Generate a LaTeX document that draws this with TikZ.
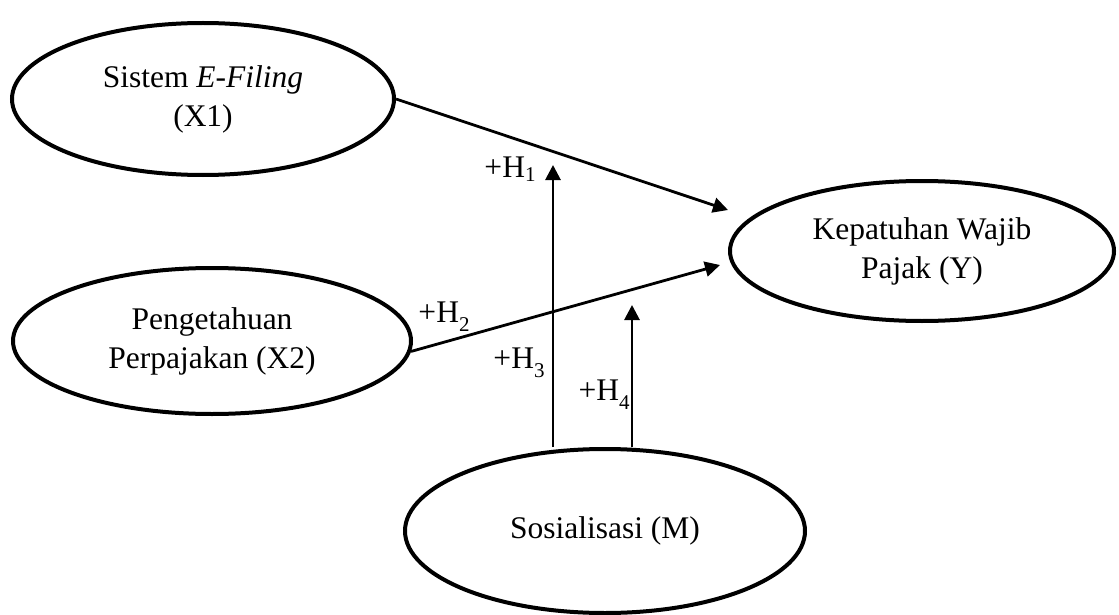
\documentclass[tikz,border=0pt]{standalone}
\usepackage{fontspec}
\setmainfont{Liberation Serif}
\usetikzlibrary{shapes.geometric,arrows.meta}
\newcommand{\hsubtxt}[2]{+H\raisebox{#2}{\fontsize{21}{21}\selectfont #1}}
\begin{document}
\begin{tikzpicture}[x=1pt,y=-1pt,
  var/.style={draw, ellipse, line width=4pt, inner sep=0pt, align=center,
    font=\fontsize{31.5}{39}\selectfont},
  conn/.style={line width=2.8pt, -{Triangle[length=15pt,width=15pt]}},
  lab/.style={font=\fontsize{31.5}{39}\selectfont, inner sep=0pt, anchor=base}]
\useasboundingbox (0,0) rectangle (1119,615);
\fill[white] (0,0) rectangle (1119,615);
\node[var, minimum width=382pt, minimum height=152pt] (X1) at (203,99)
  {Sistem \textit{E-Filing}\\(X1)};
\node[var, minimum width=398pt, minimum height=146pt] (X2) at (212,341)
  {Pengetahuan\\Perpajakan (X2)};
\node[var, minimum width=384pt, minimum height=140pt] (Y) at (922,251)
  {Kepatuhan Wajib\\Pajak (Y)};
\node[var, minimum width=400pt, minimum height=164pt] (M) at (605,531)
  {Sosialisasi (M)};
\coordinate (t1) at (728,210);
\coordinate (t2) at (720,265);
\coordinate (t3) at (553,165);
\coordinate (t4) at (632,305);
\draw[conn] (X1.east) -- (t1);
\draw[conn] (X2.-3) -- (t2);
\draw[conn] (M.north -| t3) -- (t3);
\draw[conn] (M.north -| t4) -- (t4);
\node[lab] (h1) at (510,178) {\hsubtxt{1}{-3pt}};
\node[lab] (h2) at (444,322) {\hsubtxt{2}{-9pt}};
\node[lab] (h3) at (519,368) {\hsubtxt{3}{-9pt}};
\node[lab] (h4) at (604,400) {\hsubtxt{4}{-9pt}};
\end{tikzpicture}
\end{document}
